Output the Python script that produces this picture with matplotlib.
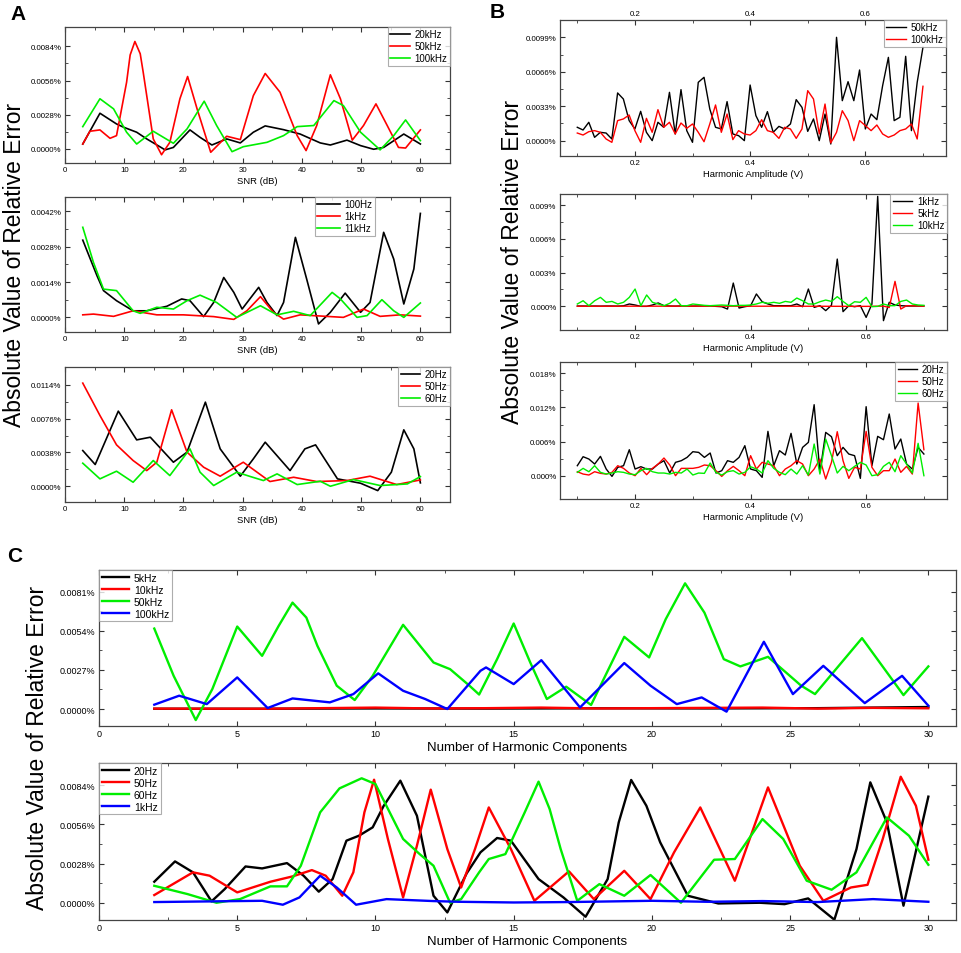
import matplotlib
matplotlib.use("Agg")
import matplotlib.pyplot as plt
from matplotlib.ticker import MultipleLocator, FixedLocator, FuncFormatter

plt.rcParams['font.family'] = ['Liberation Sans', 'DejaVu Sans']

# ---------------- data (values are in %) ----------------
# Panel A - relative error vs SNR
a1_20k_x = [3, 5.9, 8.7, 9.9, 12.1, 13.8, 16.9, 18.3, 21.1, 22.8, 24.8, 27.3, 29.6, 31.8, 33.8, 36.9, 39.7, 43.1, 44.8, 47.6, 49.9, 52.1, 53.8, 57.2, 60]
a1_20k_y = [.00038, .00291, .00203, .00176, .00135, .0008, -.0001, .0001, .00154, .00093, .0003, .0008, .00047, .00135, .00187, .00156, .0012, .00047, .0003, .0007, .00025, -.00005, .0001, .0012, .00038]
a1_50k_x = [3, 4.2, 5.9, 7.6, 8.7, 10.4, 11.0, 11.8, 12.7, 13.2, 14.9, 16.3, 17.7, 19.4, 20.7, 22.3, 24.6, 27.3, 29.6, 31.8, 33.8, 36.3, 39.2, 40.7, 42.5, 44.8, 46.5, 48.5, 50.4, 52.5, 54.4, 56.3, 57.5, 60]
a1_50k_y = [.00038, .00143, .00154, .00085, .00107, .00546, .0077, .00881, .0078, .00629, .0008, -.0005, .00052, .0041, .00593, .00327, -.0003, .00102, .00074, .00436, .00618, .00464, .00107, -.00016, .0019, .00607, .0041, .0007, .0019, .00368, .0019, .0001, .00005, .00154]
a1_100k_x = [3, 5.9, 8.2, 10.4, 12.1, 14.9, 18.3, 20.6, 23.5, 25.6, 28.2, 30.1, 34.1, 36.9, 39.2, 42, 45.4, 47, 49.9, 53.2, 55.5, 57.5, 60]
a1_100k_y = [.00181, .0041, .00327, .00135, .00038, .00143, .00044, .00162, .0039, .0019, -.00025, .00016, .00052, .00107, .00181, .0019, .00395, .00354, .00135, -.0001, .00107, .00236, .00066]

a2_100_x = [3, 5.4, 6.5, 8.7, 11.5, 13.8, 17.2, 19.7, 21.1, 23.4, 25.1, 26.8, 28.5, 29.9, 32.7, 34.1, 35.8, 36.9, 38.9, 40.8, 42.8, 44.8, 47.3, 49.9, 51.5, 53.8, 55.5, 57.2, 58.9, 60]
a2_100_y = [.00306, .00165, .00106, .00066, .00026, .00026, .00044, .00073, .00066, .00003, .00059, .00158, .00099, .00033, .00119, .00059, .00007, .00059, .00317, .00152, -.00026, .0002, .00096, .0002, .00059, .00337, .00231, .00053, .00192, .00412]
a2_1k_x = [3, 4.8, 8.2, 11.5, 15.5, 20, 25.1, 28.5, 30.7, 33, 35.2, 36.9, 39.7, 47, 50.4, 53.2, 56.6, 60]
a2_1k_y = [.0001, .00013, .00004, .00026, .0001, .0001, .00003, -.00008, .00026, .00082, .0002, -.00007, .0001, 0, .00033, .00004, .0001, .00005]
a2_11k_x = [3, 4.8, 6.5, 8.7, 11.5, 12.7, 15.5, 18.3, 20.6, 22.8, 25.6, 29, 33, 35.8, 38.6, 41.4, 45.1, 46.5, 49.3, 51, 53.5, 55.5, 57.2, 60]
a2_11k_y = [.00357, .00218, .00112, .00106, .00026, .00016, .0004, .00033, .00066, .00088, .00059, 0, .00046, .0001, .00024, .00007, .00099, .00073, 0, .00007, .0007, .00026, 0, .00057]

a3_20_x = [3, 5.1, 9, 12.1, 14.4, 18.3, 20.6, 23.7, 26.2, 29.6, 31.8, 33.8, 38, 40.5, 42.3, 46, 49.9, 52.8, 55.1, 57.2, 58.9, 60]
a3_20_y = [.00401, .00244, .00844, .00521, .00551, .0027, .00383, .00945, .0042, .00113, .00308, .00495, .00176, .0042, .00465, .00083, .00034, -.00049, .00158, .00634, .0042, .00038]
a3_50_x = [3, 5.9, 8.7, 11.5, 13.8, 15.5, 18, 20.6, 23.4, 26.2, 30.1, 34.6, 38.6, 42.5, 47.6, 51.5, 56, 60]
a3_50_y = [.01159, .00795, .00465, .00289, .00176, .0027, .00859, .00383, .00214, .00113, .0027, .00053, .00101, .00053, .00064, .00113, .00019, .00071]
a3_60_x = [3, 5.9, 8.7, 11.5, 14.9, 17.7, 21.1, 22.8, 25.1, 29, 31.3, 33.5, 35.8, 39.2, 43.1, 44.8, 48.7, 53.2, 57.8, 60]
a3_60_y = [.00259, .00083, .00169, .00045, .00289, .0012, .0042, .00158, .00008, .00158, .00109, .00064, .00139, .00019, .00056, 0, .00075, .00008, .00026, .00109]

# Panel B - relative error vs harmonic amplitude (V)
amp = [0.10, 0.11, 0.12, 0.13, 0.14, 0.15, 0.16, 0.17, 0.18, 0.19,
       0.20, 0.21, 0.22, 0.23, 0.24, 0.25, 0.26, 0.27, 0.28, 0.29,
       0.30, 0.31, 0.32, 0.33, 0.34, 0.35, 0.36, 0.37, 0.38, 0.39,
       0.40, 0.41, 0.42, 0.43, 0.44, 0.45, 0.46, 0.47, 0.48, 0.49,
       0.50, 0.51, 0.52, 0.53, 0.54, 0.55, 0.56, 0.57, 0.58, 0.59,
       0.60, 0.61, 0.62, 0.63, 0.64, 0.65, 0.66, 0.67, 0.68, 0.69, 0.70]
b1_50k = [.00128, .00102, .00176, .00032, .0008, .00073, .00016, .00457, .00399, .00192,
          .00112, .00281, .0008, 0, .00176, .00128, .00463, .00064, .00489, .00096,
          -.00016, .00559, .00607, .00303, .00128, .00112, .00374, .00064, .00048, 0,
          .00533, .0024, .00128, .00278, .0008, .00137, .00112, .0016, .00393, .00319,
          .00089, .00208, 0, .00255, -.00032, .0099, .00383, .00565, .00383, .00677,
          .00112, .00255, .00201, .00527, .00798, .00192, .00224, .00808, .00096, .00559, .00894]
b1_100k = [.00073, .00054, .00086, .00096, .0008, .00016, -.00016, .00192, .00208, .00246,
           .00096, -.00016, .00214, .0008, .00297, .00128, .00176, .00064, .00169, .00118,
           .0016, .0008, -.0001, .0016, .00342, .0008, .00255, .0001, .00096, .00064,
           .00054, .00096, .00201, .00096, .0008, .00022, .00128, .00112, .00022, .00112,
           .00479, .00399, .00064, .00351, -.00022, .0008, .00287, .00192, 0, .00192,
           .00144, .00096, .0015, .00064, .00032, .00054, .00096, .00112, .0016, .00016, .00521]
b2_1k = [.00003, .00003, .00002, .00003, .00002, .00003, .00003, .00002, .00005, .00021,
         .00012, 0, 0, .00012, .0003, .00006, .00003, .00002, .00004, .00003,
         .00002, .00003, .00004, .00003, 0, -.00003, -.00024, .00207, -.00015, -.00003,
         .00006, .0011, .00041, .00021, .00006, .00006, .00006, .00006, .00021, -.00003,
         .00154, -.00009, .00006, -.00038, .0001, .0042, -.00047, .00006, -.00003, .00006,
         -.00098, .0002, .00977, -.00127, .00036, .00012, .00006, .00003, .00003, .00003, .00003]
b2_5k_x = [0.10, 0.30, 0.50, 0.60, 0.63, 0.64, 0.65, 0.66, 0.67, 0.70]
b2_5k_y = [.00001, .00002, .00001, 0, .00002, -.0001, .00222, -.00024, .00006, .00002]
b2_10k = [.00021, .0005, .00006, .0005, .0008, .00036, .00044, .00021, .00036, .0008,
          .00154, .00006, .00101, .00036, .00021, .00006, .00027, .00065, .00006, .00006,
          .00021, .00015, .00009, .00006, .00009, .00012, .00009, .00006, .00009, .00009,
          .00012, .00021, .00036, .00027, .00036, .00027, .00044, .00036, .00074, .0005,
          .00021, .00021, .00041, .00056, .00044, .00086, .00044, .00006, .00041, .00036,
          .0008, -.00003, 0, .00021, .00006, .00006, .00044, .00056, .00021, .00012, .00009]
b3_20 = [.00176, .00334, .00293, .00205, .0034, .00117, -.00012, .00147, .00176, .00457,
         .00117, .00158, .00117, .00117, .00205, .00264, .00047, .00235, .00264, .00322,
         .00422, .0041, .00322, .00399, .00047, .00088, .00264, .00235, .00322, .00528,
         .00117, .00088, -.00029, .0078, .00176, .0044, .00364, .00745, .00205, .00498,
         .00586, .01249, .00059, .00762, .00686, .00352, .00498, .00381, .00352, -.00047,
         .01214, .00176, .00692, .00633, .01085, .00469, .00645, .00205, .00117, .00498, .00381]
b3_50 = [.0007, .00029, .00012, .0007, .00041, .00029, .00059, .00176, .00129, .00047,
         0, .00129, .00018, .00129, .00205, .00311, .00188, 0, .00129, .00129,
         .00129, .00147, .00188, .00176, .00088, -.00012, .00088, .00164, .00088, 0,
         .00352, .00117, .00235, .00205, .00176, 0, .00117, .00176, .00264, .00205,
         0, .00117, .00293, -.00059, .00235, .00774, .00264, -.00047, .00147, .00117,
         .0078, .00147, 0, .00088, .00088, .00293, .00059, .00164, .00029, .01278, .00457]
b3_60 = [.00059, .00129, .0007, .00176, .00059, .00029, .00047, .0007, .00059, .00029,
         .00018, .00088, .00129, .0007, .00047, .00047, .00029, .00059, .00047, .00117,
         .00012, .00047, .00041, .00223, .00059, .00012, .0007, .00088, .00029, .00059,
         .00158, .00117, .00047, .00264, .00129, .00059, .00018, .00117, .00029, .00176,
         .00012, .00557, .00029, .00645, .00352, .00047, .00164, .00088, .00164, .00235,
         .00188, 0, .00018, .00164, .00235, .0007, .00352, .00205, .00047, .00569, 0]

# Panel C - relative error vs number of harmonic components
c1_5k_x = [2, 6, 10, 14, 18, 22, 26, 30]
c1_5k_y = [.00002, .00002, .00004, .00003, .00005, .00004, .00006, .00014]
c1_10k_x = [2, 6, 10, 12, 14, 16, 18, 20, 22, 24, 26, 28, 30]
c1_10k_y = [.00003, .00002, .0001, .00004, .00006, .0001, .00004, .00006, .00008, .0001, .00003, .00008, .00005]
c1_50k_x = [2, 2.7, 3.5, 4.1, 5, 5.9, 6.5, 7, 7.5, 7.9, 8.6, 9.25, 9.9, 11, 12.1, 12.7, 13.4, 13.75, 14.4, 15, 15.6, 16.2, 16.9, 17.8, 19, 19.9, 20.5, 21.2, 21.9, 22.6, 23.2, 24.2, 25.4, 25.9, 27.6, 29.1, 30]
c1_50k_y = [.00555, .00229, -.00076, .00138, .00569, .00367, .00574, .00734, .00631, .00436, .00161, .00062, .00229, .00581, .00321, .00275, .00161, .001, .00344, .0059, .00321, .00069, .00154, .00028, .00498, .00356, .0062, .00867, .00665, .00344, .00294, .0036, .00161, .00103, .00489, .00096, .00294]
c1_100k_x = [2, 2.9, 3.9, 5, 6.1, 7, 8.35, 9.2, 10.1, 11, 11.8, 12.6, 13.8, 14, 15, 16, 17.4, 19, 19.95, 20.9, 21.8, 22.7, 24.05, 25.1, 26.2, 27.7, 29.05, 30]
c1_100k_y = [.0003, .00092, .00034, .00218, .00007, .00073, .00046, .00103, .00246, .00126, .00069, 0, .00264, .00287, .00172, .00337, .00011, .00317, .00161, .00034, .0008, -.00018, .00464, .00103, .00298, .00041, .00229, .00023]

c2_20_x = [2, 2.75, 3.4, 4.07, 4.55, 5.3, 5.9, 6.8, 7.4, 7.95, 8.45, 8.95, 9.4, 9.9, 10.3, 10.9, 11.5, 12.1, 12.6, 13.3, 13.8, 14.4, 14.9, 15.9, 16.8, 17.6, 18.4, 18.8, 19.25, 19.8, 20.3, 21.3, 22.4, 23.9, 24.8, 25.65, 26.6, 27.4, 27.9, 28.5, 29.1, 30]
c2_20_y = [.0015, .00295, .00217, .0001, .00098, .00259, .00245, .00283, .00193, .00079, .00169, .00443, .00478, .00538, .00692, .00871, .00621, .0005, -.00069, .0021, .0036, .00462, .00443, .00169, .00038, -.001, .00169, .00573, .00876, .00692, .00431, .0005, -.00005, 0, -.0001, .00031, -.00121, .00383, .00859, .00574, -.00021, .00757]
c2_50_x = [2, 3.4, 4, 5, 6.2, 7, 7.7, 8.2, 8.8, 9.2, 9.6, 9.95, 10.45, 11, 11.5, 12, 12.6, 13.1, 13.6, 14.1, 14.9, 15.75, 17, 17.9, 19, 19.95, 20.8, 21.75, 23, 24.2, 25.35, 26.2, 27.2, 27.8, 28.35, 29, 29.55, 30]
c2_50_y = [.00055, .00217, .00193, .00074, .0015, .00188, .00233, .00193, .0005, .00217, .00645, .00878, .00455, .00038, .00407, .00807, .00383, .00109, .00383, .0068, .00383, .00014, .00224, .00026, .00228, .00026, .00359, .0068, .00157, .00823, .00264, .00014, .00109, .00128, .00455, .00899, .00692, .00307]
c2_60_x = [2, 3.2, 4.25, 5.1, 6.2, 6.8, 7.3, 8, 8.7, 9.5, 10, 11, 11.6, 12.1, 12.7, 13.1, 13.75, 14.1, 14.7, 15.4, 15.9, 16.3, 16.7, 17.3, 18.1, 19, 19.95, 21.05, 22.25, 23, 24, 24.75, 25.6, 26.5, 27.4, 28.5, 29.3, 30]
c2_60_y = [.00121, .00062, 0, .00026, .00117, .00117, .00264, .00645, .00816, .00888, .00847, .00455, .00347, .00264, 0, .00026, .00217, .00312, .00347, .00645, .00864, .00669, .00383, .00014, .00133, .0005, .00198, 0, .00307, .00312, .00597, .00455, .00157, .00093, .00217, .00609, .00478, .00271]
c2_1k_x = [2, 5, 5.9, 6.65, 7.25, 8, 8.6, 9.3, 10.4, 12.1, 13, 15, 17, 20, 22, 24, 26, 28, 30]
c2_1k_y = [.00005, .00012, .00014, -.00014, .00038, .00193, .00109, -.00014, .00026, .00012, .00007, .00002, .00005, .00014, .00007, .00012, .00005, .00026, .00007]

BLACK, RED, GREEN, BLUE = 'black', '#ff0000', '#00ee00', '#0000ff'

W, H = 962, 954
fig = plt.figure(figsize=(W / 100, H / 100), dpi=100)


def px_axes(x0, y0, x1, y1):
    return fig.add_axes([x0 / W, 1 - y1 / H, (x1 - x0) / W, (y1 - y0) / H])


def style(ax, xlim, ylim, xmaj, xmin, ystep, ydec, size=5.7):
    ax.set_xlim(*xlim)
    ax.set_ylim(*ylim)
    ax.xaxis.set_major_locator(MultipleLocator(xmaj))
    ax.xaxis.set_minor_locator(MultipleLocator(xmin))
    ax.yaxis.set_major_locator(FixedLocator([0, ystep, 2 * ystep, 3 * ystep]))
    ax.yaxis.set_minor_locator(FixedLocator([ystep / 2, 1.5 * ystep, 2.5 * ystep]))
    ax.yaxis.set_major_formatter(FuncFormatter(lambda v, p: f"{v:.{ydec}f}%"))
    ax.tick_params(which='both', direction='in', top=True, right=True,
                   labelsize=size, color='#333333', pad=2.5)
    ax.tick_params(which='major', length=3.5, width=0.8)
    ax.tick_params(which='minor', length=2, width=0.6)
    for s in ax.spines.values():
        s.set_color('#444444')
        s.set_linewidth(0.9)


def legend(ax, loc, size=7, hl=2.0, anchor=None):
    kw = {}
    if anchor is not None:
        kw['bbox_to_anchor'] = anchor
    leg = ax.legend(loc=loc, fontsize=size, frameon=True, fancybox=False,
                    borderaxespad=0, borderpad=0.25, labelspacing=0.2,
                    handlelength=hl, handletextpad=0.5, **kw)
    leg.get_frame().set_edgecolor('#999999')
    leg.get_frame().set_linewidth(0.8)


# ---------------- Panel A ----------------
ax = px_axes(65, 28, 450, 164)
ax.plot(a1_20k_x, a1_20k_y, color=BLACK, lw=1.2, label='20kHz')
ax.plot(a1_50k_x, a1_50k_y, color=RED, lw=1.2, label='50kHz')
ax.plot(a1_100k_x, a1_100k_y, color=GREEN, lw=1.2, label='100kHz')
style(ax, (0, 65), (-0.00118, 0.0100), 10, 5, 0.0028, 4)
ax.set_xlabel('SNR (dB)', fontsize=6.8, labelpad=2)
legend(ax, 'upper right')

ax = px_axes(65, 198, 450, 333)
ax.plot(a2_100_x, a2_100_y, color=BLACK, lw=1.2, label='100Hz')
ax.plot(a2_1k_x, a2_1k_y, color=RED, lw=1.2, label='1kHz')
ax.plot(a2_11k_x, a2_11k_y, color=GREEN, lw=1.2, label='11kHz')
style(ax, (0, 65), (-0.00058, 0.00477), 10, 5, 0.0014, 4)
ax.set_xlabel('SNR (dB)', fontsize=6.8, labelpad=2)
legend(ax, 'upper right', hl=2.3, anchor=(0.805, 1.0))

ax = px_axes(65, 368, 450, 503)
ax.plot(a3_20_x, a3_20_y, color=BLACK, lw=1.2, label='20Hz')
ax.plot(a3_50_x, a3_50_y, color=RED, lw=1.2, label='50Hz')
ax.plot(a3_60_x, a3_60_y, color=GREEN, lw=1.2, label='60Hz')
style(ax, (0, 65), (-0.00177, 0.0134), 10, 5, 0.0038, 4)
ax.set_xlabel('SNR (dB)', fontsize=6.8, labelpad=2)
legend(ax, 'upper right')

# ---------------- Panel B ----------------
ax = px_axes(560, 21, 946, 157)
ax.plot(amp, b1_50k, color=BLACK, lw=1.0, label='50kHz')
ax.plot(amp, b1_100k, color=RED, lw=1.0, label='100kHz')
style(ax, (0.07, 0.74), (-0.00147, 0.01156), 0.2, 0.1, 0.0033, 4)
ax.tick_params(labeltop=True)
ax.set_xlabel('Harmonic Amplitude (V)', fontsize=6.8, labelpad=2)
legend(ax, 'upper right')

ax = px_axes(560, 195, 947, 331)
ax.plot(amp, b2_1k, color=BLACK, lw=1.0, label='1kHz')
ax.plot(b2_5k_x, b2_5k_y, color=RED, lw=1.0, label='5kHz')
ax.plot(amp, b2_10k, color=GREEN, lw=1.0, label='10kHz')
style(ax, (0.07, 0.74), (-0.0021, 0.00998), 0.2, 0.1, 0.003, 3)
ax.set_xlabel('Harmonic Amplitude (V)', fontsize=6.8, labelpad=2)
legend(ax, 'upper right')

ax = px_axes(560, 363, 947, 500)
ax.plot(amp, b3_20, color=BLACK, lw=1.0, label='20Hz')
ax.plot(amp, b3_50, color=RED, lw=1.0, label='50Hz')
ax.plot(amp, b3_60, color=GREEN, lw=1.0, label='60Hz')
style(ax, (0.07, 0.74), (-0.0041, 0.0200), 0.2, 0.1, 0.006, 3)
ax.set_xlabel('Harmonic Amplitude (V)', fontsize=6.8, labelpad=2)
legend(ax, 'upper right')

# ---------------- Panel C ----------------
ax = px_axes(99, 571, 956, 727)
ax.plot(c1_5k_x, c1_5k_y, color=BLACK, lw=1.7, label='5kHz')
ax.plot(c1_10k_x, c1_10k_y, color=RED, lw=1.7, label='10kHz')
ax.plot(c1_50k_x, c1_50k_y, color=GREEN, lw=1.7, label='50kHz')
ax.plot(c1_100k_x, c1_100k_y, color=BLUE, lw=1.7, label='100kHz')
style(ax, (0, 31), (-0.00117, 0.00959), 5, 2.5, 0.0027, 4, size=6.5)
ax.set_xlabel('Number of Harmonic Components', fontsize=9.5, labelpad=2)
legend(ax, 'upper left', size=7.5, hl=2.6)

ax = px_axes(99, 764, 956, 921)
ax.plot(c2_20_x, c2_20_y, color=BLACK, lw=1.7, label='20Hz')
ax.plot(c2_50_x, c2_50_y, color=RED, lw=1.7, label='50Hz')
ax.plot(c2_60_x, c2_60_y, color=GREEN, lw=1.7, label='60Hz')
ax.plot(c2_1k_x, c2_1k_y, color=BLUE, lw=1.7, label='1kHz')
style(ax, (0, 31), (-0.00123, 0.00997), 5, 2.5, 0.0028, 4, size=6.5)
ax.set_xlabel('Number of Harmonic Components', fontsize=9.5, labelpad=2)
legend(ax, 'upper left', size=7.5, hl=2.6)

# ---------------- shared labels ----------------
ylab = 'Absolute Value of Relative Error'
fig.text(15 / W, 1 - 265 / H, ylab, rotation=90, fontsize=16.5, ha='center', va='center')
fig.text(513 / W, 1 - 262 / H, ylab, rotation=90, fontsize=16.5, ha='center', va='center')
fig.text(38 / W, 1 - 748 / H, ylab, rotation=90, fontsize=16.5, ha='center', va='center')

fig.text(18 / W, 1 - 14 / H, 'A', fontsize=15, fontweight='bold', ha='center', va='center')
fig.text(497 / W, 1 - 13 / H, 'B', fontsize=15, fontweight='bold', ha='center', va='center')
fig.text(15 / W, 1 - 557 / H, 'C', fontsize=15, fontweight='bold', ha='center', va='center')

fig.savefig('out.png', dpi=100)
